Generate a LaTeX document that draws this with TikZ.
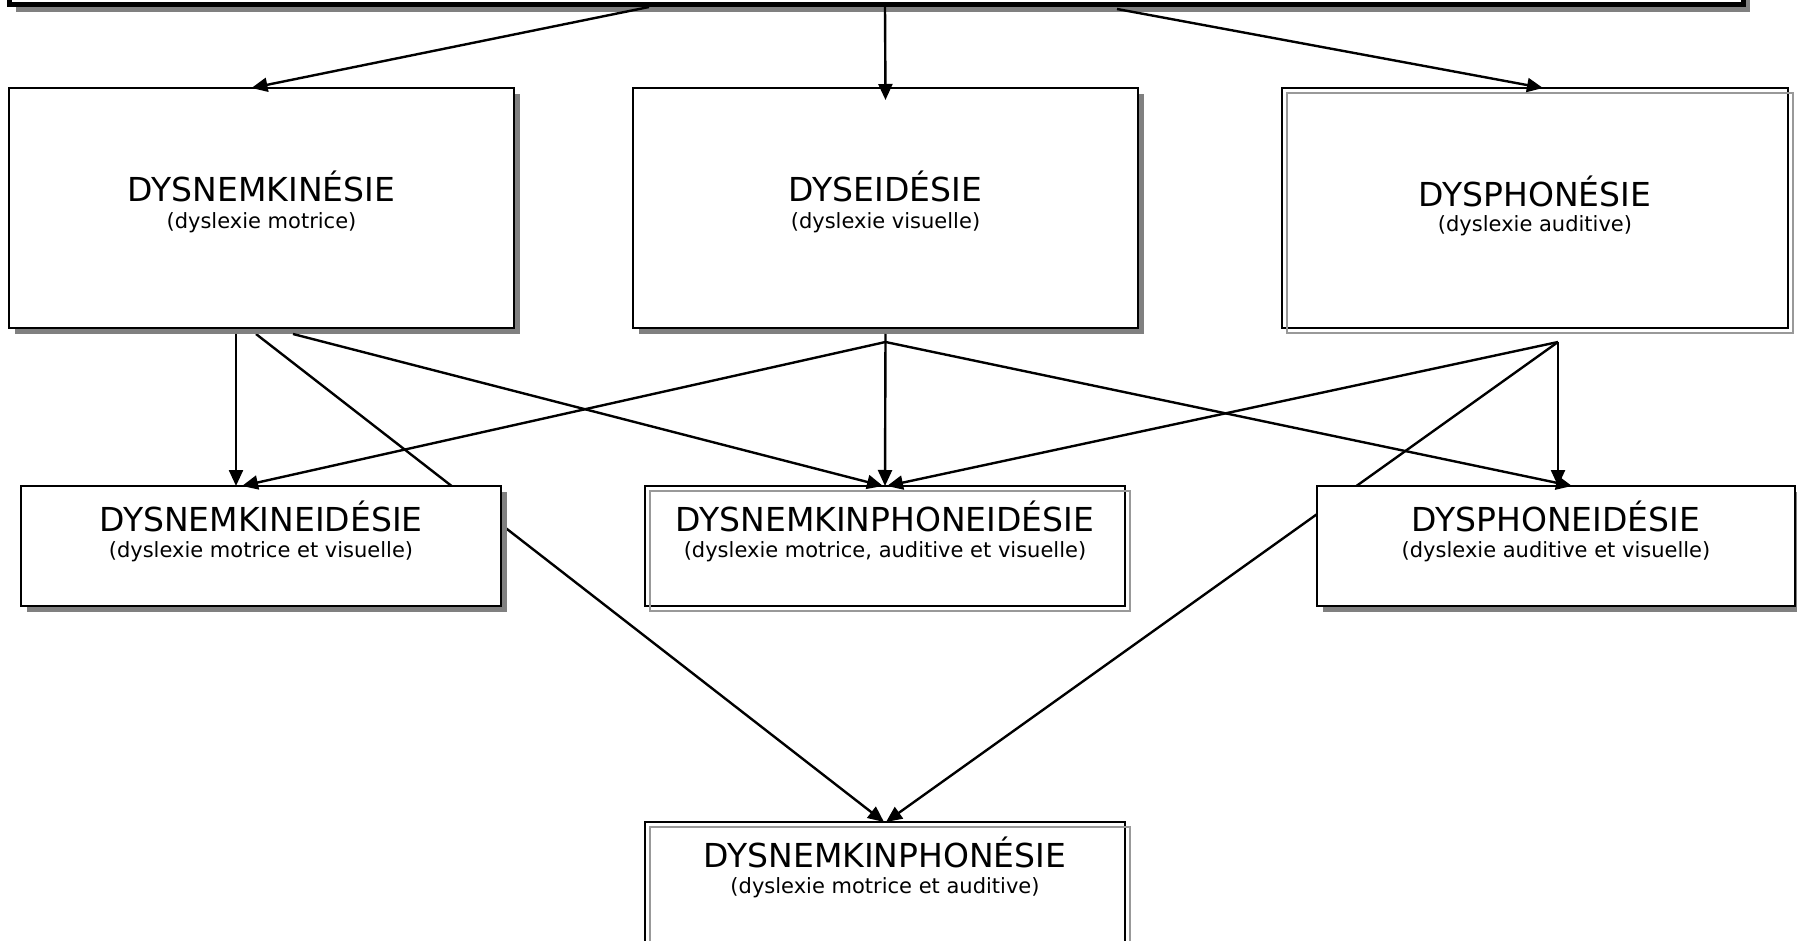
\documentclass[tikz,border=0pt]{standalone}
\usepackage{fontspec}
\setmainfont{DejaVu Sans}
\usetikzlibrary{calc,arrows.meta,backgrounds,shadows}
\definecolor{shadowgray}{HTML}{808080}
\definecolor{linegray}{HTML}{999999}
\begin{document}
\begin{tikzpicture}[x=1pt,y=-1pt,
  box/.style={draw=black,line width=2.4pt,fill=white,rectangle,inner sep=0pt,outer sep=0pt,anchor=north west},
  shbox/.style={box,drop shadow={shadow xshift=6pt,shadow yshift=-6pt,fill=shadowgray,opacity=1}},
  topbox/.style={box,line width=5pt,drop shadow={shadow xshift=7pt,shadow yshift=-7pt,fill=shadowgray,opacity=1}},
  ghost/.style={draw=linegray,line width=2.2pt},
  ttl/.style={anchor=base,inner sep=0pt,font=\fontsize{33pt}{40pt}\selectfont},
  sub/.style={anchor=base,inner sep=0pt,font=\fontsize{21pt}{26pt}\selectfont},
  conn/.style={draw=black,line width=2.4pt},
  arr/.style={conn,-{Triangle[length=16pt,width=14pt]}}
]
\useasboundingbox (0,0) rectangle (1797,941);
\clip (0,0) rectangle (1797,941);

% top box
\node[topbox,minimum width=1734pt,minimum height=70pt] (T) at (9,-65) {};

% first row
\node[shbox,minimum width=505pt,minimum height=240pt] (A) at (9,88) {};
\node[shbox,minimum width=505pt,minimum height=240pt] (B) at (633,88) {};
\node[box,minimum width=506pt,minimum height=240pt] (C) at (1282,88) {};
\draw[ghost] ($(C.north west)+(5,5)$) rectangle ($(C.south east)+(5,5)$);

% second row
\node[shbox,minimum width=480pt,minimum height=120pt] (D) at (21,486) {};
\node[box,minimum width=480pt,minimum height=120pt] (E) at (645,486) {};
\draw[ghost] ($(E.north west)+(5,5)$) rectangle ($(E.south east)+(5,5)$);
\node[shbox,minimum width=478pt,minimum height=120pt] (F) at (1317,486) {};

% bottom
\node[box,minimum width=480pt,minimum height=200pt] (G) at (645,822) {};
\draw[ghost] ($(G.north west)+(5,5)$) rectangle ($(G.south east)+(5,5)$);

% texts
\node[ttl] (At) at ($(A.north)+(0,114)$) {DYSNEMKINÉSIE};
\node[sub] (As) at ($(A.north)+(0,141)$) {(dyslexie motrice)};
\node[ttl] (Bt) at ($(B.north)+(0,114)$) {DYSEIDÉSIE};
\node[sub] (Bs) at ($(B.north)+(0,141)$) {(dyslexie visuelle)};
\node[ttl] (Ct) at ($(C.north)+(0,119)$) {DYSPHONÉSIE};
\node[sub] (Cs) at ($(C.north)+(0,144)$) {(dyslexie auditive)};
\node[ttl] (Dt) at ($(D.north)+(0,45)$) {DYSNEMKINEIDÉSIE};
\node[sub] (Ds) at ($(D.north)+(0,71)$) {(dyslexie motrice et visuelle)};
\node[ttl] (Et) at ($(E.north)+(0,45)$) {DYSNEMKINPHONEIDÉSIE};
\node[sub] (Es) at ($(E.north)+(0,71)$) {(dyslexie motrice, auditive et visuelle)};
\node[ttl] (Ft) at ($(F.north)+(0,45)$) {DYSPHONEIDÉSIE};
\node[sub] (Fs) at ($(F.north)+(0,71)$) {(dyslexie auditive et visuelle)};
\node[ttl] (Gt) at ($(G.north)+(0,45)$) {DYSNEMKINPHONÉSIE};
\node[sub] (Gs) at ($(G.north)+(0,71)$) {(dyslexie motrice et auditive)};

% junction points
\coordinate (Bj) at ($(B.south)+(0,14)$);
\coordinate (Cj) at ($(C.south)+(23,14)$);

% connectors from top box
\draw[arr] ($(T.south west)+(640,2)$) -- ($(A.north)+(-10,0)$);
\draw[arr] ($(T.south west)+(876,2)$) -- ($(B.north)+(0,12)$);
\draw[arr] ($(T.south west)+(1108,4)$) -- ($(C.north)+(8,0)$);

% from A
\draw[arr] ($(A.south west)+(227,6)$) -- ($(D.north)+(-25,0)$);
\draw[arr] ($(A.south west)+(284,6)$) -- ($(E.north)+(-2,0)$);
\begin{pgfonlayer}{background}
\draw[arr] ($(A.south west)+(247,6)$) -- ($(G.north)+(-1,0)$);
\draw[arr] (Cj) -- ($(G.north)+(1,0)$);
\end{pgfonlayer}

% from B
\draw[arr] (Bj) -- ($(D.north)+(-19,0)$);
\draw[arr] ($(B.south)+(0,6)$) -- (E.north);
\draw[arr] (Bj) -- ($(F.north)+(16,0)$);

% from C
\draw[arr] (Cj) -- ($(E.north)+(2,0)$);
\draw[arr] (Cj) -- ($(F.north)+(2,0)$);
\end{tikzpicture}
\end{document}
